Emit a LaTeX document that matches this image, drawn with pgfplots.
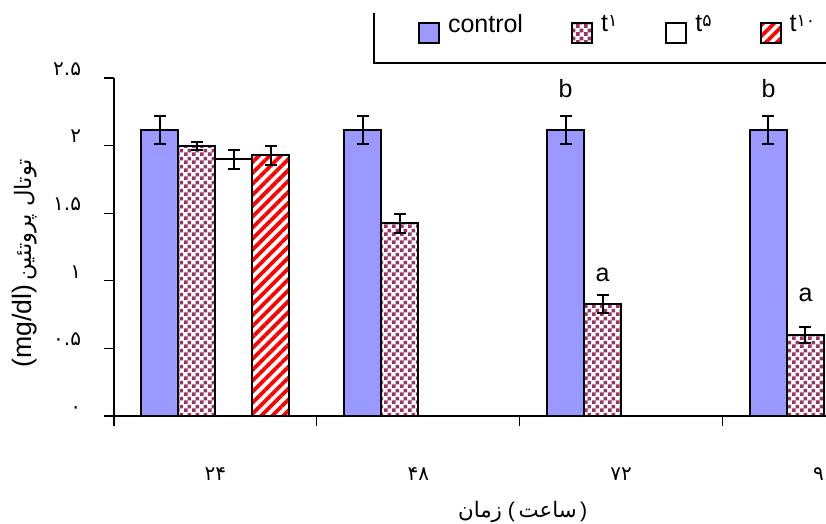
\documentclass[border=0pt]{standalone}
\usepackage{fontspec}
\setmainfont{Liberation Sans}
\newfontfamily\pfont[Script=Arabic]{DejaVu Sans}
\usepackage{pgfplots}
\pgfplotsset{compat=1.18}
\usetikzlibrary{patterns,patterns.meta}
\TeXXeTstate=1
\definecolor{ctrl}{HTML}{9999FF}
\definecolor{chk}{HTML}{993366}
\pgfdeclarepatternformonly{mychecker}{\pgfpointorigin}{\pgfqpoint{6pt}{6pt}}{\pgfqpoint{6pt}{6pt}}{%
 \pgfpathrectangle{\pgfpointorigin}{\pgfqpoint{3.05pt}{3.05pt}}%
 \pgfpathrectangle{\pgfqpoint{3pt}{3pt}}{\pgfqpoint{3.05pt}{3.05pt}}%
 \pgfusepath{fill}}
\newcommand{\bigf}{\fontsize{18.75}{20}\selectfont}
\newcommand{\ld}[1]{t\raisebox{3.5pt}{\pfont\fontsize{13}{13}\selectfont #1}}
\begin{document}
\begin{tikzpicture}[x=1pt,y=1pt]
\begin{axis}[
  at={(85.5pt,-312pt)}, anchor=south west,
  scale only axis, width=534pt, height=253.5pt,
  xmin=-0.5, xmax=3.01, ymin=0, ymax=2.5,
  axis x line*=bottom, axis y line*=left,
  axis line style={line width=0.9pt, black},
  clip=false,
  ybar=0pt, bar width=27.75pt,
  tick align=outside,
  major tick length=7.5pt, minor tick length=7.5pt,
  tick style={line width=0.9pt, black},
  xtick={-0.5,0.5,1.5,2.5}, xticklabels={},
  extra x ticks={0,1,2,3},
  extra x tick labels={۲۴,۴۸,۷۲,۹۶},
  extra x tick style={major tick length=0pt,
     xticklabel style={font=\pfont\fontsize{15}{17}\selectfont, anchor=base, yshift=-48pt}},
  ytick={0,0.5,1,1.5,2,2.5},
  yticklabels={۰,۰.۵,۱,۱.۵,۲,۲.۵},
  yticklabel style={font=\pfont\fontsize{15}{17}\selectfont, anchor=base east, inner sep=0pt, xshift=-17pt, yshift=2pt},
  xlabel={{\pfont\fontsize{16}{18}\selectfont زمان}\ (\,{\pfont\fontsize{16}{18}\selectfont ساعت}\,)},
  xlabel style={at={(axis description cs:0.574,-0.299)}, anchor=base, font=\fontsize{16}{18}\selectfont},
  ylabel={{\fontsize{20}{22}\selectfont(mg/dl)}\ {\pfont\fontsize{17}{19}\selectfont\beginR توتال پروتئین\endR}},
  ylabel style={at={(axis description cs:-0.125,0.452)}, anchor=center},
  legend columns=4,
  legend style={at={(axis description cs:0.4270,1.1006)}, anchor=south west,
     draw=none, fill=none, inner sep=0pt, outer sep=0pt,
     nodes={inner sep=0pt}, font=\bigf,
     /tikz/every odd column/.append style={column sep=6pt},
     /tikz/every even column/.append style={column sep=36pt}},
  legend image code/.code={\draw[#1, line width=1.5pt] (0pt,-14.25pt) rectangle (15pt,0.75pt);},
  error bars/y dir=both, error bars/y explicit,
  error bars/error mark=-,
  error bars/error bar style={line width=1.5pt, black, solid},
  error bars/error mark options={rotate=90, line width=1.5pt, black, mark size=4.5pt},
]
\addplot[draw=black, line width=1.5pt, fill=ctrl] coordinates {
  (0,2.115) +- (0,0.105)
  (1,2.115) +- (0,0.105)
  (2,2.115) +- (0,0.105)
  (3,2.115) +- (0,0.105)
};
\addlegendentry{control}
\addplot[draw=black, line width=1.5pt, pattern=mychecker, pattern color=chk] coordinates {
  (0,2.0) +- (0,0.03)
  (1,1.425) +- (0,0.068)
  (2,0.83) +- (0,0.066)
  (3,0.60) +- (0,0.058)
};
\addlegendentry{\ld{۱}}
\addplot[draw=black, line width=1.5pt, fill=white] coordinates {
  (0,1.90) +- (0,0.07)
};
\addlegendentry{\ld{۵}}
\addplot[draw=black, line width=1.5pt, pattern={Lines[angle=45,distance=5.8pt,line width=2.8pt]}, pattern color=red] coordinates {
  (0,1.928) +- (0,0.07)
};
\addlegendentry{\ld{۱۰}}
\node[font=\bigf] at (axis cs:2,2.419) [xshift=-41.625pt] {b};
\node[font=\bigf] at (axis cs:3,2.419) [xshift=-41.625pt] {b};
\node[font=\bigf] at (axis cs:2,1.043) [xshift=-13.875pt] {a};
\node[font=\bigf] at (axis cs:3,0.895) [xshift=-13.875pt] {a};
\end{axis}
\draw[line width=0.9pt, black] (280.5,-9.75) -- (280.5,-47.25) -- (625,-47.25);
\pgfresetboundingbox
\path[use as bounding box] (0,0) rectangle (619.5,-393);
\end{tikzpicture}
\end{document}
